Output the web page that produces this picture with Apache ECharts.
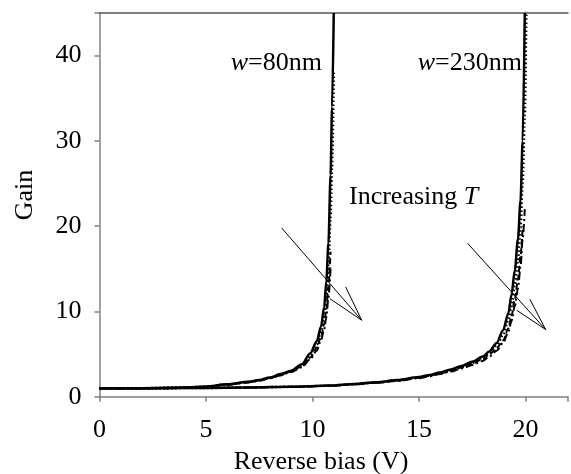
<!DOCTYPE html>
<html>
<head>
<meta charset="utf-8">
<script src="https://cdn.jsdelivr.net/npm/echarts@6/dist/echarts.min.js"></script>
<style>
  html, body { margin: 0; padding: 0; background: #fff; }
  #chart { width: 571px; height: 474px; }
</style>
</head>
<body>
<div id="chart"></div>
<script>
// bias points (V) and gain, 4 temperatures each
var v80 = [0, 2, 4, 5, 6, 7, 7.5, 8, 8.5, 9, 9.5, 9.9, 10.2, 10.4, 10.55, 10.65, 10.75, 10.85, 10.92, 11.0];
var g80a = [1.0, 1.0, 1.08, 1.2, 1.45, 1.75, 1.95, 2.25, 2.65, 3.05, 3.8, 5.1, 6.5, 8.2, 10.5, 13.5, 18, 26, 34, 45];
var g80b = [1.0, 1.0, 1.07, 1.18, 1.42, 1.7, 1.9, 2.2, 2.55, 2.95, 3.55, 4.6, 5.7, 7.0, 8.5, 10.2, 13, 17, null, null];
var g80c = [1.0, 1.0, 1.06, 1.16, 1.4, 1.68, 1.86, 2.15, 2.5, 2.9, 3.45, 4.4, 5.4, 6.6, 7.9, 9.3, 11.6, 15, null, null];
var g80d = [1.0, 1.0, 1.07, 1.19, 1.44, 1.73, 1.93, 2.22, 2.6, 3.0, 3.7, 4.9, 6.1, 7.6, 9.4, 11.8, 15.5, 21, 27, 38];

var v230 = [0, 3, 5, 7, 9, 10.8, 12, 13, 14, 15, 15.5, 16, 16.5, 17, 17.5, 18, 18.3, 18.65, 18.95, 19.2, 19.35, 19.5, 19.65, 19.77, 19.87, 19.97, 20.05];
var g230a = [1.0, 1.0, 1.03, 1.08, 1.17, 1.3, 1.5, 1.7, 1.95, 2.3, 2.55, 2.85, 3.2, 3.6, 4.1, 4.7, 5.3, 6.3, 7.8, 9.8, 12.0, 14.8, 18.5, 23, 30, 45, null];
var g230b = [1.0, 1.0, 1.03, 1.08, 1.16, 1.28, 1.47, 1.66, 1.9, 2.22, 2.46, 2.74, 3.05, 3.42, 3.88, 4.4, 4.95, 5.7, 6.6, 8.0, 9.5, 11.4, 13.8, 16.5, 20, null, null];
var g230c = [1.0, 1.0, 1.02, 1.07, 1.15, 1.27, 1.45, 1.63, 1.86, 2.17, 2.4, 2.66, 2.96, 3.3, 3.72, 4.2, 4.7, 5.4, 6.3, 7.6, 8.9, 10.6, 12.7, 15.2, 18.5, 22, null];
var g230d = [1.0, 1.0, 1.03, 1.08, 1.16, 1.29, 1.48, 1.68, 1.92, 2.26, 2.5, 2.8, 3.12, 3.5, 3.98, 4.55, 5.1, 6.0, 7.2, 9.0, 10.8, 13.0, 16.0, 19.8, 25, 33, 47];

// "Increasing T" arrows: shaft [start, tip], head [end1, tip, end2]
var arrow1Shaft = [[8.55, 19.8], [12.31, 8.97]];
var arrow1Head = [[11.56, 12.87], [12.31, 8.97], [10.82, 11.5]];
var arrow2Shaft = [[17.28, 18.0], [20.95, 7.88]];
var arrow2Head = [[20.21, 11.43], [20.95, 7.88], [19.59, 10.14]];

var xTicks = [0, 5, 10, 15, 20];
var yTicks = [0, 10, 20, 30, 40];

var font = 'Liberation Serif';

function pairs(xs, ys) {
  var out = [];
  for (var i = 0; i < xs.length; i++) {
    if (ys[i] != null) out.push([xs[i], ys[i]]);
  }
  return out;
}

function curve(xs, ys, type, width) {
  return {
    type: 'line',
    data: pairs(xs, ys),
    showSymbol: false,
    smooth: 0.3,
    smoothMonotone: 'x',
    silent: true,
    lineStyle: { color: '#000', width: width, type: type }
  };
}

function thin(data) {
  return {
    type: 'line',
    data: data,
    showSymbol: false,
    silent: true,
    lineStyle: { color: '#000', width: 1 }
  };
}

var chart = echarts.init(document.getElementById('chart'));
chart.setOption({
  animation: false,
  grid: { left: 99.5, right: 3, top: 13, bottom: 77.3 },
  xAxis: [{
    type: 'value', min: 0, max: 22, interval: 5,
    axisLine: { lineStyle: { color: '#808080', width: 1.5 } },
    axisTick: { show: true, length: 5, inside: false, lineStyle: { color: '#808080', width: 1.5 } },
    axisLabel: {
      margin: 20, color: '#000', fontFamily: font, fontSize: 26,
      formatter: function (v) { return xTicks.indexOf(v) >= 0 ? String(v) : ''; }
    },
    splitLine: { show: false }
  }, {
    type: 'value', position: 'top', min: 0, max: 22,
    axisLine: { show: true, onZero: false, lineStyle: { color: '#555', width: 1.5 } },
    axisTick: { show: false }, axisLabel: { show: false }, splitLine: { show: false }
  }],
  yAxis: {
    type: 'value', min: 0, max: 45, interval: 10,
    axisLine: { show: true, lineStyle: { color: '#808080', width: 1.5 } },
    axisTick: { show: true, length: 5, lineStyle: { color: '#808080', width: 1.5 } },
    axisLabel: {
      margin: 18, color: '#000', fontFamily: font, fontSize: 26,
      formatter: function (v) { return yTicks.indexOf(v) >= 0 ? String(v) : ''; }
    },
    splitLine: { show: false }
  },
  series: [
    curve(v80, g80b, [6, 3], 2),
    curve(v80, g80c, [8, 3, 2, 3], 2),
    curve(v80, g80d, [1.5, 2.5], 2.5),
    curve(v80, g80a, 'solid', 2.5),
    curve(v230, g230b, [6, 3], 2),
    curve(v230, g230c, [8, 3, 2, 3], 2),
    curve(v230, g230d, [1.5, 2.5], 2.5),
    curve(v230, g230a, 'solid', 2.5),
    thin(arrow1Shaft), thin(arrow1Head),
    thin(arrow2Shaft), thin(arrow2Head)
  ],
  graphic: [
    {
      type: 'text', x: 322, y: 63,
      style: {
        text: '{i|w}=80nm', fill: '#000', font: '26px ' + font,
        align: 'right', verticalAlign: 'middle',
        rich: { i: { fontStyle: 'italic', fontFamily: font, fontSize: 26 } }
      }
    },
    {
      type: 'text', x: 522, y: 63,
      style: {
        text: '{i|w}=230nm', fill: '#000', font: '26px ' + font,
        align: 'right', verticalAlign: 'middle',
        rich: { i: { fontStyle: 'italic', fontFamily: font, fontSize: 26 } }
      }
    },
    {
      type: 'text', x: 349, y: 197,
      style: {
        text: 'Increasing {i|T}', fill: '#000', font: '26px ' + font,
        align: 'left', verticalAlign: 'middle',
        rich: { i: { fontStyle: 'italic', fontFamily: font, fontSize: 26 } }
      }
    },
    {
      type: 'text', x: 321, y: 462,
      style: {
        text: 'Reverse bias (V)', fill: '#000', font: '26px ' + font,
        align: 'center', verticalAlign: 'middle'
      }
    },
    {
      type: 'text', x: 25, y: 195, rotation: Math.PI / 2,
      style: {
        text: 'Gain', fill: '#000', font: '26px ' + font,
        align: 'center', verticalAlign: 'middle'
      }
    }
  ]
});
</script>
</body>
</html>
